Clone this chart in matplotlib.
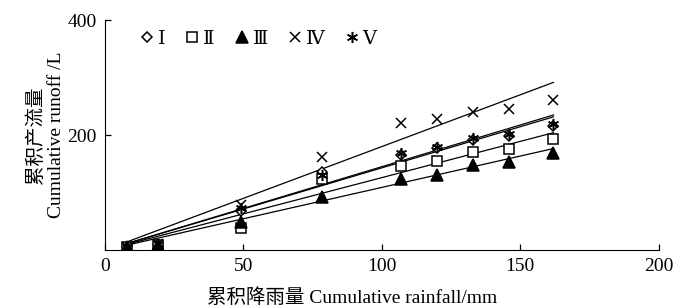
import numpy as np
import matplotlib.pyplot as plt

plt.rcParams['font.family'] = ['Liberation Serif', 'DejaVu Serif', 'Noto Sans CJK SC']

# data
rainfall = [8, 19, 49, 78.5, 107, 120, 133, 146, 162]
runoff_I = [5, 9, 68, 135, 165, 178, 192, 198, 215]
runoff_II = [5, 9, 38, 123, 146, 155, 170, 176, 193]
runoff_III = [5, 9, 49, 93, 123, 130, 148, 153, 168]
runoff_IV = [6, 11, 78, 162, 221, 228, 240, 245, 261]
runoff_V = [5, 10, 73, 130, 169, 179, 195, 202, 219]
labels = ['Ⅰ', 'Ⅱ', 'Ⅲ', 'Ⅳ', 'Ⅴ']
# slopes of the fitted lines (through origin)
slopes = [1.43, 1.26, 1.09, 1.80, 1.45]

series = [runoff_I, runoff_II, runoff_III, runoff_IV, runoff_V]
markers = ['D', 's', '^', 'x', (6, 2, 0)]
sizes = [5, 7, 8, 7, 8]
faces = ['white', 'white', 'black', 'black', 'black']

fig = plt.figure(figsize=(7, 3.08), dpi=100)
ax = fig.add_axes([0.15, 0.188, 0.791, 0.747])

xline = np.array([rainfall[0], rainfall[-1]])
for k in slopes:
    ax.plot(xline, k * xline, color='black', lw=0.9)

for y, m, s, fc, lab in zip(series, markers, sizes, faces, labels):
    ax.plot(rainfall, y, linestyle='none', marker=m, markersize=s,
            markerfacecolor=fc, markeredgecolor='black', markeredgewidth=1.1,
            label=lab)

ax.set_xlim(0, 200)
ax.set_ylim(0, 400)
ax.set_xticks([0, 50, 100, 150, 200])
ax.set_yticks([200, 400])
ax.tick_params(direction='in', labelsize=14, length=4, width=0.9, pad=6)
ax.spines['top'].set_visible(False)
ax.spines['right'].set_visible(False)
ax.set_xlabel('累积降雨量 Cumulative rainfall/mm', fontsize=14)
ax.xaxis.set_label_coords(0.446, -0.165)
ax.set_ylabel('累积产流量\nCumulative runoff /L', fontsize=14, labelpad=2)

ax.legend(loc='upper left', bbox_to_anchor=(0.03, 1.03), ncol=5, frameon=False,
          fontsize=14, handlelength=0.8, handletextpad=0.15, columnspacing=1.0)

plt.savefig('out.png')
